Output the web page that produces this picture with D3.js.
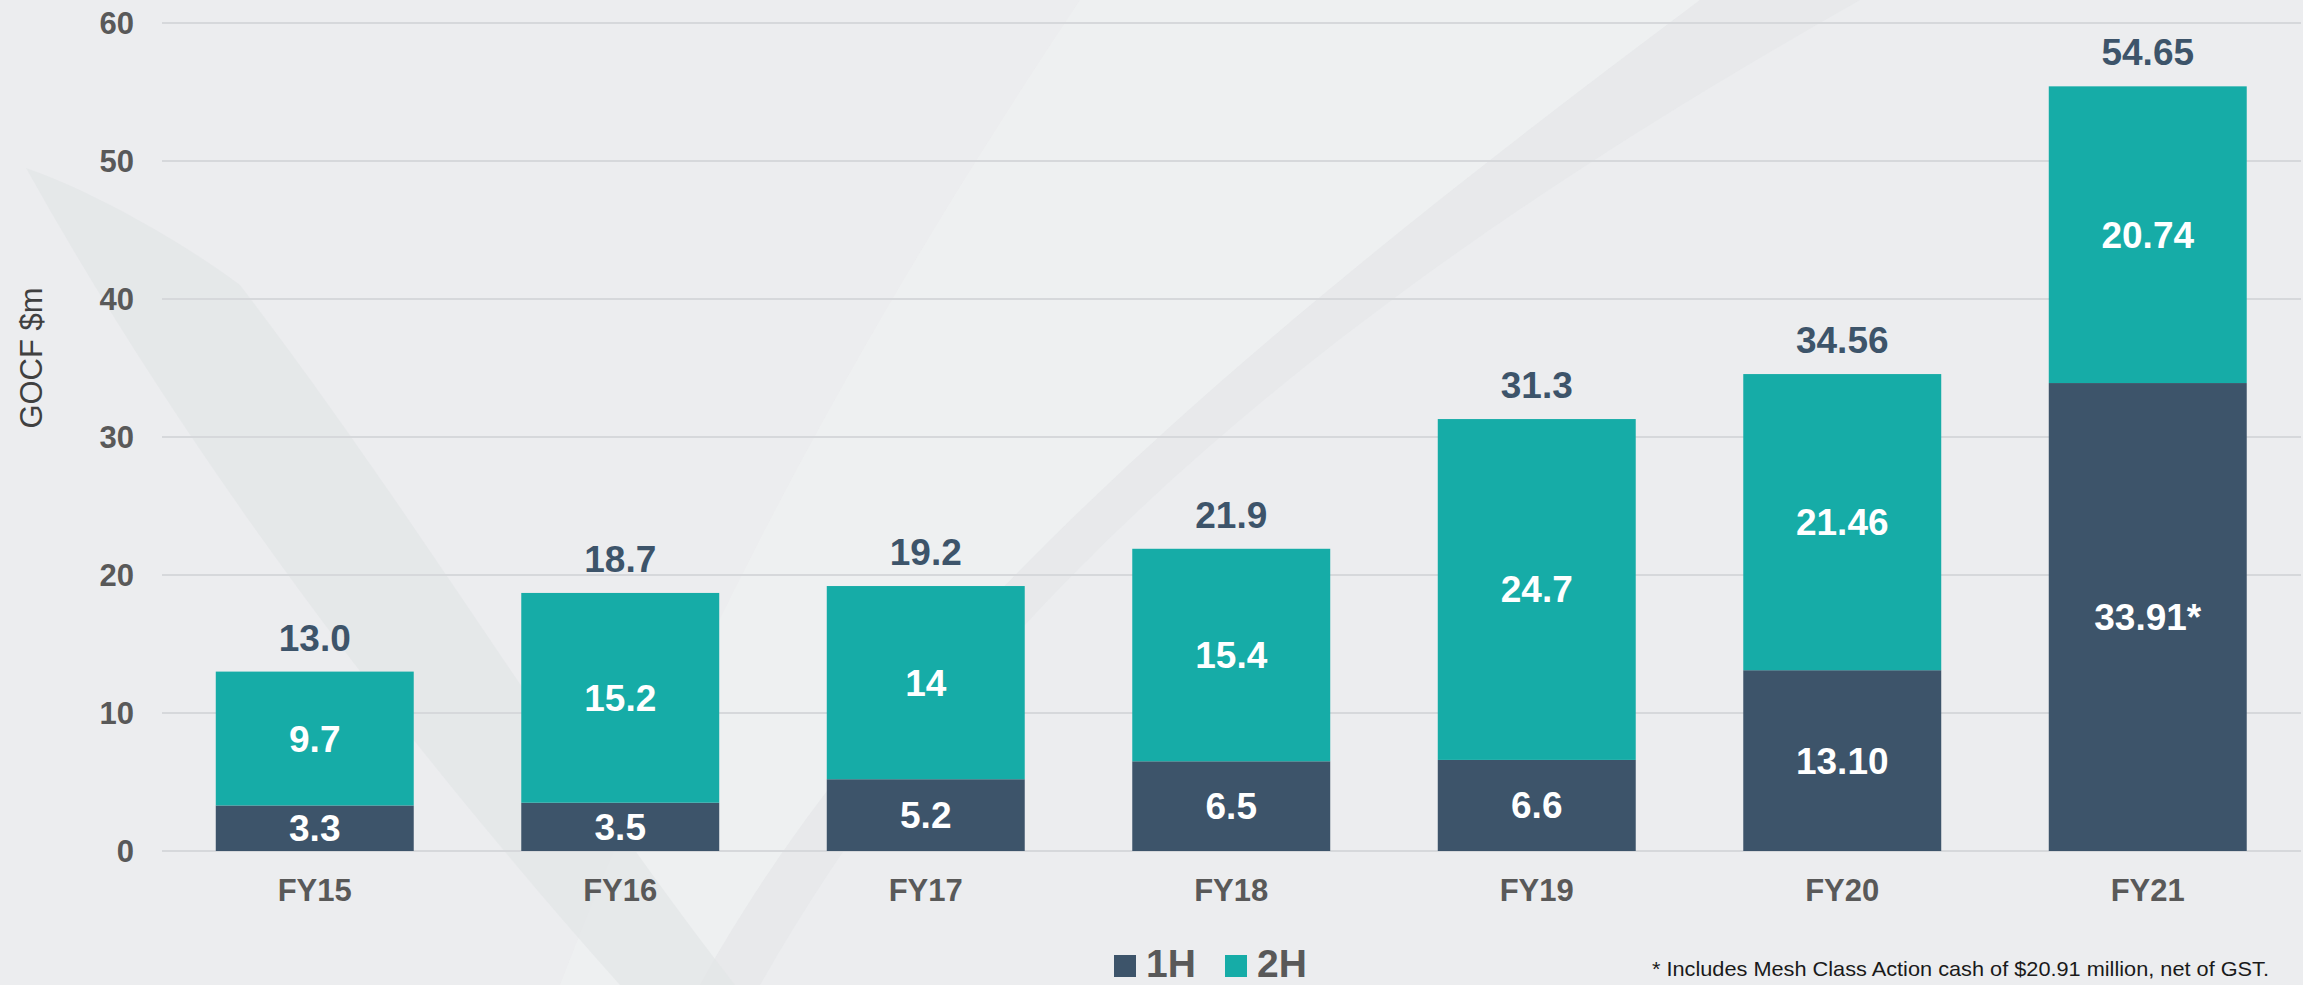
<!DOCTYPE html>
<html>
<head>
<meta charset="utf-8">
<script src="https://cdn.jsdelivr.net/npm/d3@7"></script>
<style>
  html, body { margin: 0; padding: 0; background: #ECEDEF; }
  svg { display: block; }
</style>
</head>
<body>
<svg id="chart" width="2303" height="985"></svg>
<script>
// ---- data ----
const categories = ["FY15", "FY16", "FY17", "FY18", "FY19", "FY20", "FY21"];
const firstHalf = [3.3, 3.5, 5.2, 6.5, 6.6, 13.10, 33.91];
const secondHalf = [9.7, 15.2, 14, 15.4, 24.7, 21.46, 21.5];
const firstHalfLabels = ["3.3", "3.5", "5.2", "6.5", "6.6", "13.10", "33.91*"];
const secondHalfLabels = ["9.7", "15.2", "14", "15.4", "24.7", "21.46", "20.74"];
const totalLabels = ["13.0", "18.7", "19.2", "21.9", "31.3", "34.56", "54.65"];
const yTicks = [0, 10, 20, 30, 40, 50, 60];
const seriesNames = ["1H", "2H"];
const yTitle = "GOCF $m";
const footnote = "* Includes Mesh Class Action cash of $20.91 million, net of GST.";

// ---- style ----
const C1 = "#3D546A", C2 = "#16ACA7", AXIS = "#595959";
const FONT = "'Liberation Sans', Arial, Helvetica, sans-serif";
const NARROW = "'Liberation Sans Narrow', 'Arial Narrow', 'Liberation Sans', Arial, sans-serif";

const svg = d3.select("#chart");

// background decoration (subtle swooshes)
const deco = svg.append("g");
deco.append("path")
  .attr("d", "M1080,0 L1700,0 C1300,300 900,620 700,985 L560,985 C700,620 880,300 1080,0 Z")
  .attr("fill", "#F1F2F3").attr("opacity", 0.55);
deco.append("path")
  .attr("d", "M1700,0 L1860,0 C1400,260 1000,560 760,985 L700,985 C900,620 1300,300 1700,0 Z")
  .attr("fill", "#E3E6E8").attr("opacity", 0.5);
deco.append("path")
  .attr("d", "M26,168 C90,190 180,240 240,285 C420,520 560,760 735,985 L620,985 C420,760 200,480 26,168 Z")
  .attr("fill", "#E2E5E7").attr("opacity", 0.7);

const x = d3.scaleBand().domain(categories).range([162, 2300.5]).paddingInner(0.352).paddingOuter(0.176);
const y = d3.scaleLinear().domain([0, 60]).range([851, 23]);

// gridlines
svg.append("g").selectAll("line").data(yTicks).join("line")
  .attr("x1", 162).attr("x2", 2301)
  .attr("y1", d => y(d)).attr("y2", d => y(d))
  .attr("stroke", "#D6D8DB").attr("stroke-width", 2);

// y tick labels
svg.append("g").selectAll("text").data(yTicks).join("text")
  .attr("x", 134).attr("y", d => y(d) + 11)
  .attr("text-anchor", "end")
  .attr("font-family", FONT).attr("font-weight", "bold").attr("font-size", 31)
  .attr("fill", AXIS).text(d => d);

// y title
svg.append("text")
  .attr("transform", "translate(42,358) rotate(-90)")
  .attr("text-anchor", "middle")
  .attr("font-family", FONT).attr("font-size", 31)
  .attr("fill", "#404040").text(yTitle);

// stacked bars
const rows = categories.map((c, i) => ({ c, a: firstHalf[i], b: secondHalf[i], i }));
const g = svg.append("g");
g.selectAll("rect.h1").data(rows).join("rect").attr("class", "h1")
  .attr("x", d => x(d.c)).attr("width", x.bandwidth())
  .attr("y", d => y(d.a)).attr("height", d => y(0) - y(d.a))
  .attr("fill", C1);
g.selectAll("rect.h2").data(rows).join("rect").attr("class", "h2")
  .attr("x", d => x(d.c)).attr("width", x.bandwidth())
  .attr("y", d => y(d.a + d.b)).attr("height", d => y(d.a) - y(d.a + d.b))
  .attr("fill", C2);

const cx = d => x(d.c) + x.bandwidth() / 2;
// inner labels
g.selectAll("text.l1").data(rows).join("text").attr("class", "l1")
  .attr("x", cx).attr("y", d => (y(0) + y(d.a)) / 2 + 13)
  .attr("text-anchor", "middle").attr("font-family", FONT).attr("font-weight", "bold")
  .attr("font-size", 37).attr("fill", "#FFFFFF").text(d => firstHalfLabels[d.i]);
g.selectAll("text.l2").data(rows).join("text").attr("class", "l2")
  .attr("x", cx).attr("y", d => (y(d.a) + y(d.a + d.b)) / 2 + 13)
  .attr("text-anchor", "middle").attr("font-family", FONT).attr("font-weight", "bold")
  .attr("font-size", 37).attr("fill", "#FFFFFF").text(d => secondHalfLabels[d.i]);
// totals
g.selectAll("text.tot").data(rows).join("text").attr("class", "tot")
  .attr("x", cx).attr("y", d => y(d.a + d.b) - 21)
  .attr("text-anchor", "middle").attr("font-family", FONT).attr("font-weight", "bold")
  .attr("font-size", 37).attr("fill", C1).text(d => totalLabels[d.i]);

// x labels
svg.append("g").selectAll("text").data(categories).join("text")
  .attr("x", d => x(d) + x.bandwidth() / 2).attr("y", 901)
  .attr("text-anchor", "middle").attr("font-family", FONT).attr("font-weight", "bold")
  .attr("font-size", 31).attr("fill", AXIS).text(d => d);

// legend
const legX = [1114, 1225];
const leg = svg.append("g");
seriesNames.forEach((s, i) => {
  leg.append("rect").attr("x", legX[i]).attr("y", 955).attr("width", 22).attr("height", 22)
    .attr("fill", i === 0 ? C1 : C2);
  leg.append("text").attr("x", legX[i] + 32).attr("y", 977)
    .attr("font-family", FONT).attr("font-weight", "bold").attr("font-size", 39)
    .attr("fill", AXIS).text(s);
});

// footnote
svg.append("text").attr("x", 1652).attr("y", 976)
  .attr("font-family", NARROW).attr("font-size", 21)
  .attr("textLength", 617).attr("lengthAdjust", "spacingAndGlyphs")
  .attr("fill", "#1a1a1a").text(footnote);
</script>
</body>
</html>
